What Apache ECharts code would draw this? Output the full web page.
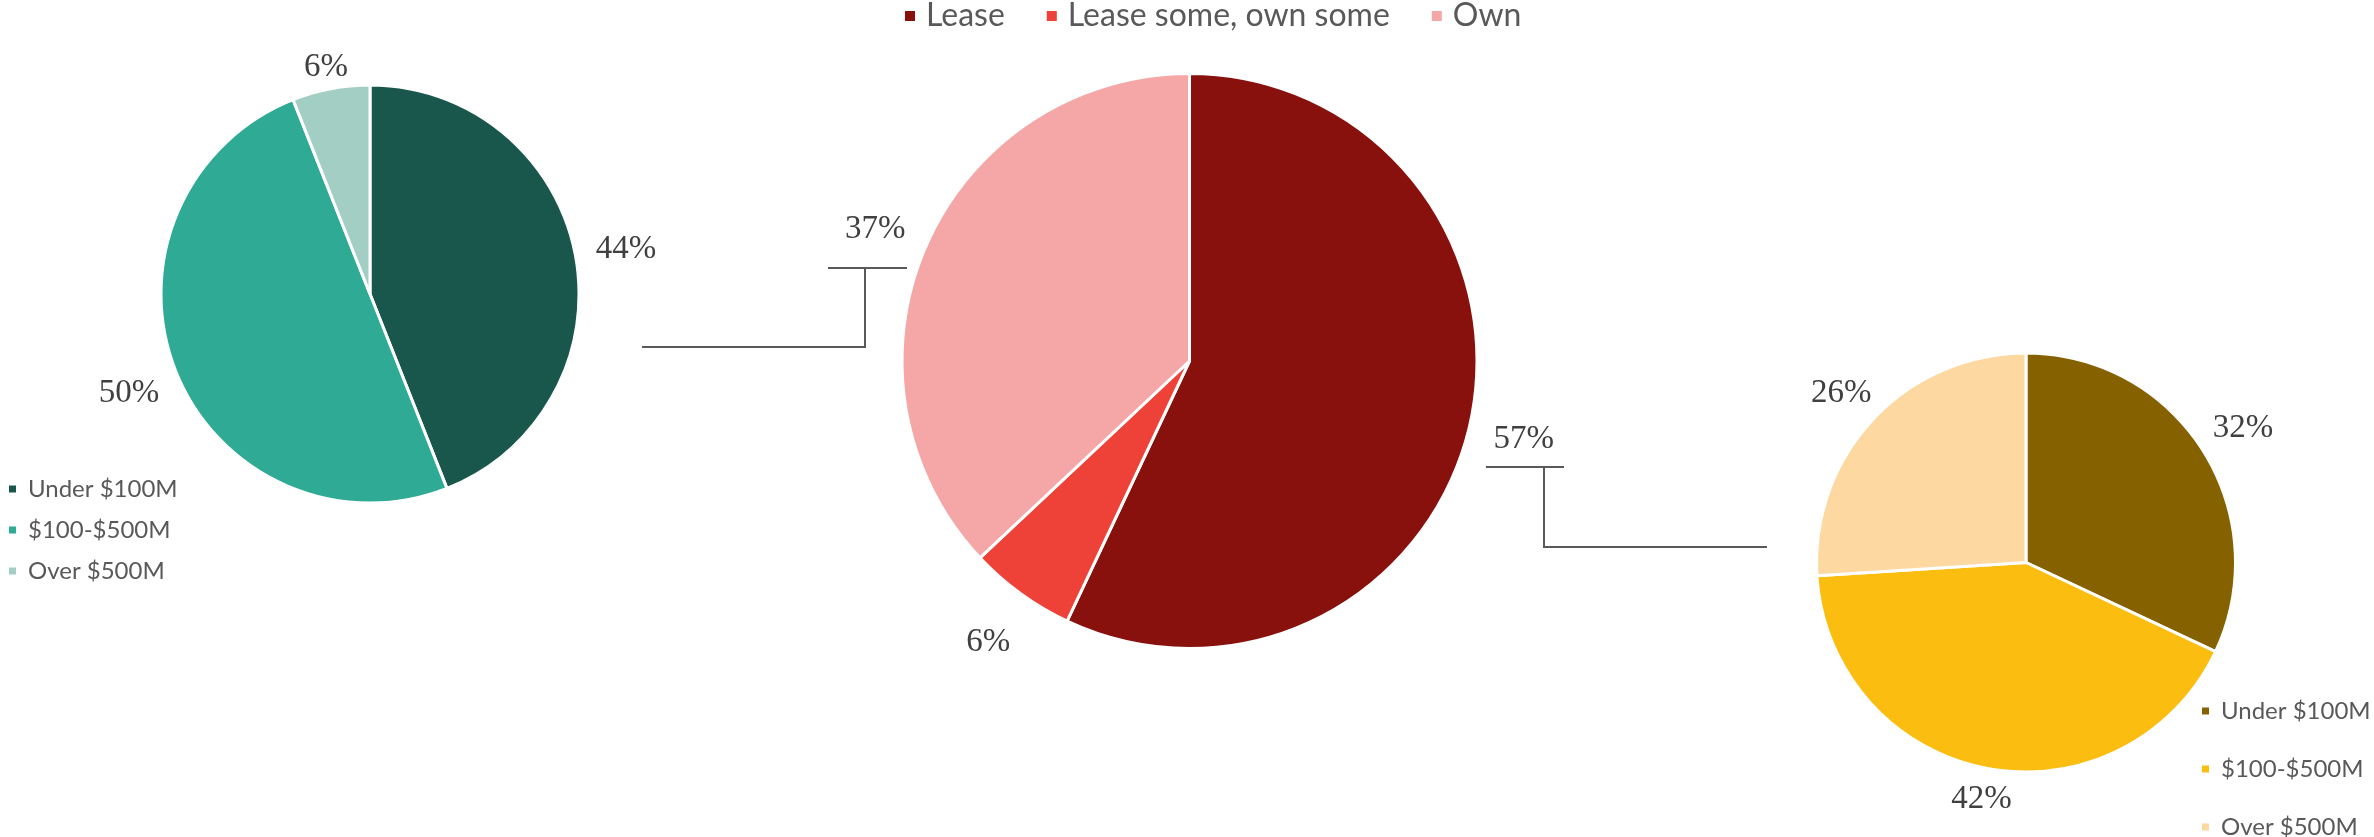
<!DOCTYPE html>
<html>
<head>
<meta charset="utf-8">
<script src="https://cdn.jsdelivr.net/npm/echarts@6/dist/echarts.min.js"></script>
<style>
  html, body { margin: 0; padding: 0; background: #ffffff; }
  #chart { width: 2374px; height: 837px; }
</style>
</head>
<body>
<div id="chart"></div>
<script>
// ---- Data ----
const revenueCategories = ['Under $100M', '$100-$500M', 'Over $500M'];
const leaseValues = [44, 50, 6];          // left pie (Lease)
const tenureCategories = ['Lease', 'Lease some, own some', 'Own'];
const tenureValues = [57, 6, 37];         // middle pie
const ownValues = [32, 42, 26];           // right pie (Own)

// ---- Styles ----
const leftColors = ['#19574C', '#2FAA94', '#A3CEC4'];
const midColors = ['#88110D', '#EE4238', '#F4A7A6'];
const rightColors = ['#856100', '#FBBD10', '#FDD8A1'];
const labelFont = 'Liberation Serif, DejaVu Serif, serif';
const legendFont = 'Lato, Open Sans, sans-serif';

function sum(a) { return a.reduce((s, v) => s + v, 0); }

function makeLabelLayout(values, cx, cy, r, gap, mode) {
  const total = sum(values);
  return function (params) {
    const i = params.dataIndex;
    let acc = 0;
    for (let k = 0; k < i; k++) acc += values[k];
    const mid = (acc + values[i] / 2) / total * Math.PI * 2;
    const dx = Math.sin(mid), dy = -Math.cos(mid);
    const w = params.labelRect.width;
    let d;
    if (mode === 'const') d = r + gap;
    else d = r + gap + Math.abs(dx) * w / 2;
    return { x: cx + d * dx, y: cy + d * dy + 4, align: 'center', verticalAlign: 'middle' };
  };
}

function pieSeries(name, cats, vals, colors, cx, cy, r, gap, mode) {
  return {
    type: 'pie',
    name: name,
    center: [cx, cy],
    radius: r,
    startAngle: 90,
    clockwise: true,
    avoidLabelOverlap: false,
    silent: true,
    itemStyle: { borderColor: '#ffffff', borderWidth: 3 },
    label: {
      show: true,
      position: 'outside',
      formatter: '{d}%',
      fontFamily: labelFont,
      fontSize: 33,
      color: '#404040'
    },
    labelLine: { show: false },
    labelLayout: makeLabelLayout(vals, cx, cy, r, gap, mode),
    data: cats.map((c, i) => ({ name: c, value: vals[i], itemStyle: { color: colors[i] } }))
  };
}

const chart = echarts.init(document.getElementById('chart'), null, { renderer: 'canvas' });

const lineStyle = { stroke: '#595959', lineWidth: 2, fill: null };

const sideLegendText = { fontFamily: legendFont, fontSize: 24, color: '#595959', lineHeight: 20, padding: [0, 0, 0, 6] };

// right legend: one component per item so the wide spacing fits the canvas
const rightLegends = revenueCategories.map((c, i) => ({
  data: [{ name: c, itemStyle: { color: rightColors[i] } }],
  orient: 'vertical',
  left: 2200, top: 699 + i * 58, padding: 0,
  icon: 'rect', itemWidth: 9, itemHeight: 9,
  textStyle: sideLegendText,
  selectedMode: false
}));

chart.setOption({
  backgroundColor: '#ffffff',
  animation: false,
  legend: [
    {
      data: tenureCategories.map((c, i) => ({ name: c, itemStyle: { color: midColors[i] } })),
      orient: 'horizontal',
      left: 903, top: 0, padding: 0,
      icon: 'rect', itemWidth: 12, itemHeight: 12, itemGap: 40,
      textStyle: { fontFamily: legendFont, fontSize: 32, color: '#595959', lineHeight: 32, padding: [0, 0, 0, 5] },
      selectedMode: false
    },
    {
      data: revenueCategories.map((c, i) => ({ name: c, itemStyle: { color: leftColors[i] } })),
      orient: 'vertical',
      left: 7, top: 477, padding: 0,
      icon: 'rect', itemWidth: 9, itemHeight: 9, itemGap: 17,
      textStyle: sideLegendText,
      selectedMode: false
    }
  ].concat(rightLegends),
  series: [
    pieSeries('Lease', revenueCategories, leaseValues, leftColors, 370, 294, 209, 22, 'side'),
    pieSeries('Tenure', tenureCategories, tenureValues, midColors, 1189.5, 361, 287.5, 55, 'const'),
    pieSeries('Own', revenueCategories, ownValues, rightColors, 2026, 562.5, 209.5, 22, 'side')
  ],
  graphic: [
    { type: 'polyline', shape: { points: [[642, 347], [865, 347], [865, 268]] }, style: lineStyle, silent: true },
    { type: 'polyline', shape: { points: [[828, 268], [907, 268]] }, style: lineStyle, silent: true },
    { type: 'polyline', shape: { points: [[1486, 467], [1564, 467]] }, style: lineStyle, silent: true },
    { type: 'polyline', shape: { points: [[1544, 467], [1544, 547], [1767, 547]] }, style: lineStyle, silent: true }
  ]
});
</script>
</body>
</html>
